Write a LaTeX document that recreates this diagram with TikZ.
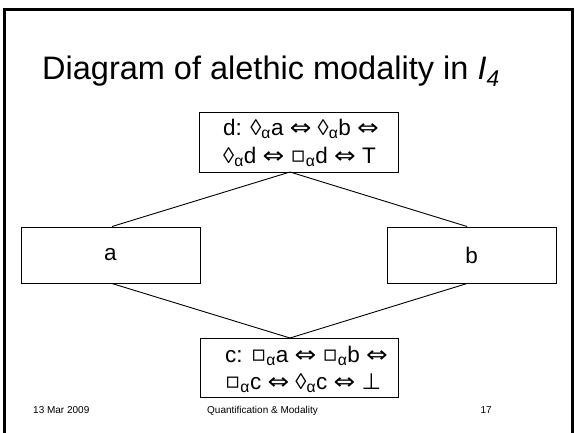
\documentclass[tikz,border=0pt]{standalone}
\usepackage{fontspec}
\setmainfont{Liberation Sans}
\newfontfamily\symfont{DejaVu Sans}

% modal operators and connectives
\newcommand{\Pos}{◊\textsubscript{α}}
\newcommand{\Nec}{{\symfont\raisebox{0.1ex}{▫}}\textsubscript{α}}
\newcommand{\Iff}{{\symfont\scalebox{1.15}[1]{⇔}}}
\newcommand{\Bot}{{\symfont ⊥}}

\tikzset{
  world/.style={draw, line width=1pt, inner sep=0pt,
    font=\fontsize{22.5}{27.5}\selectfont},
  formula/.style={inner sep=0pt, align=left, anchor=west,
    font=\fontsize{22.5}{27.5}\selectfont},
  link/.style={line width=0.9pt},
  foot/.style={font=\fontsize{10}{12}\selectfont, inner sep=0pt}
}

\begin{document}
\begin{tikzpicture}[x=1pt,y=-1pt]
\useasboundingbox (0,0) rectangle (575,432);
\clip (0,0) rectangle (575,432);
% slide frame
\draw[line width=3pt] (4.5,9.3) rectangle (572.4,460);

% title
\node[font=\fontsize{32.5}{36}\selectfont, inner sep=0pt, anchor=base west]
  (title) at (42,79)
  {Diagram of alethic modality in {\itshape I\textsubscript{4}}};

% worlds
\node[world, minimum width=199pt, minimum height=60pt] (d) at (298.5,142) {};
\node[formula] (dtext) at (223,143)
  {d: \Pos a \Iff{} \Pos b \Iff\\ \Pos d \Iff{} \Nec d \Iff{} T};
\node[world, minimum width=179pt, minimum height=56pt] (a) at (110.5,255) {a};
\node[world, minimum width=169pt, minimum height=56pt] (b) at (471.5,255) {b};
\node[world, minimum width=198pt, minimum height=59pt] (c) at (299,367.5) {};
\node[formula] (ctext) at (225,369.5)
  {c: \Nec a \Iff{} \Nec b \Iff\\ \Nec c \Iff{} \Pos c \Iff{} \Bot};

% meeting points of the accessibility lines
\coordinate (dtop) at (290,172);
\coordinate (cbot) at (290,338);

% accessibility lines
\draw[link] (dtop) -- ([xshift=1.5pt]a.north);
\draw[link] (dtop) -- ([xshift=-4.5pt]b.north);
\draw[link] ([xshift=1.5pt]a.south) -- (cbot);
\draw[link] ([xshift=-4.5pt]b.south) -- (cbot);

% footer
\node[foot, anchor=base west] (date) at (33,413) {13 Mar 2009};
\node[foot, anchor=base] (topic) at (262.5,413) {Quantification \& Modality};
\node[foot, anchor=base east] (num) at (492,413) {17};
\end{tikzpicture}
\end{document}
